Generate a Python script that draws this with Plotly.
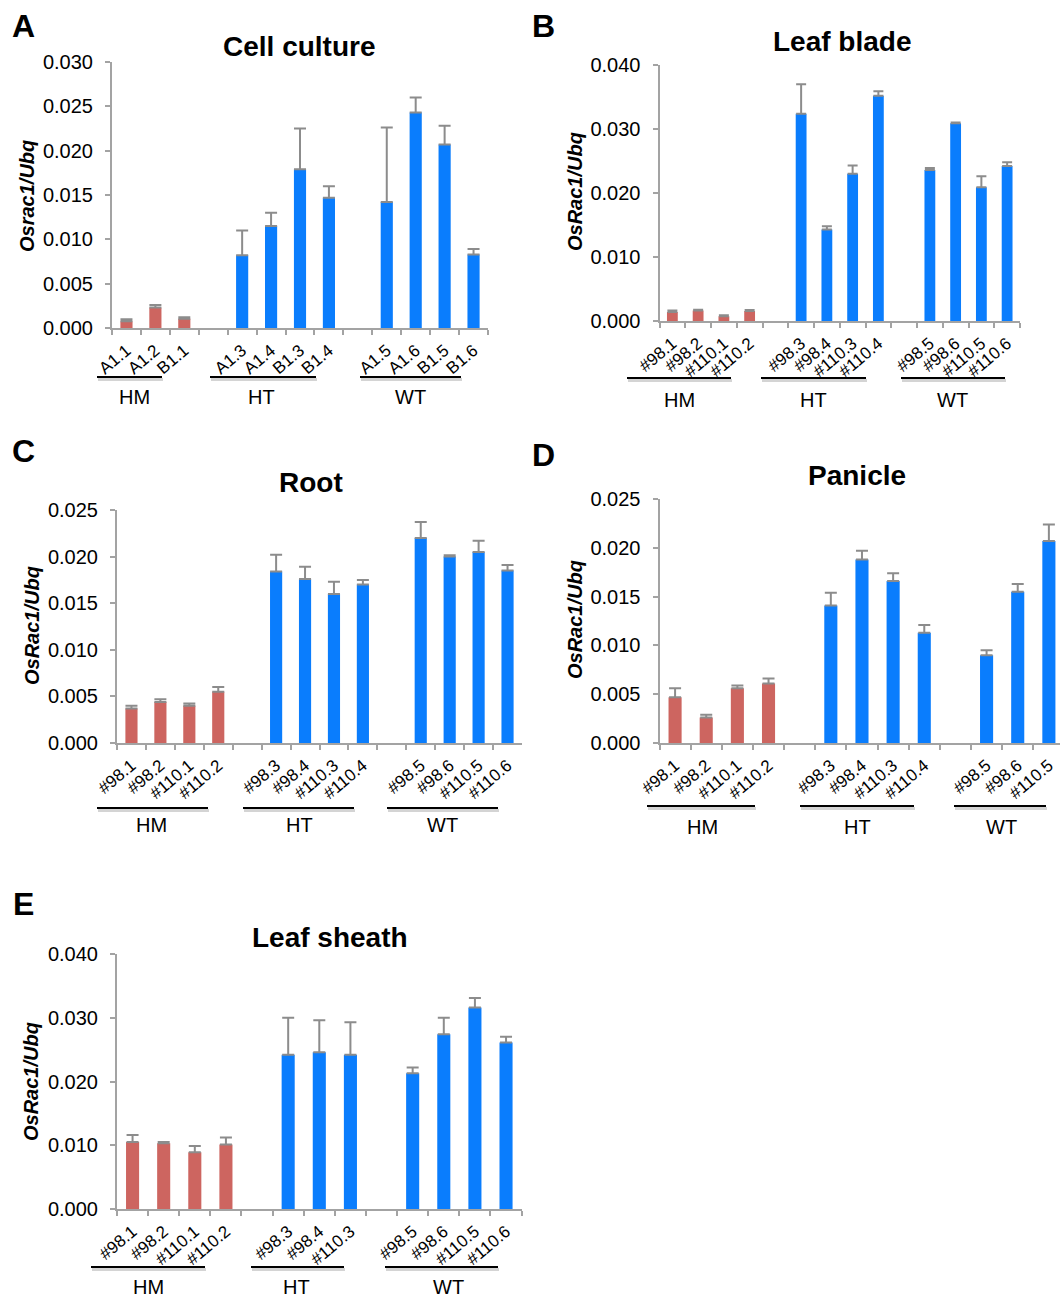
import plotly.graph_objects as go

W, H = 1060, 1299
FONT = "Liberation Sans, Arial, Helvetica, sans-serif"
BLUE = "#0a7dfd"
RED = "#cd6560"
AXIS_GRAY = "#a3a3a3"
ERR_GRAY = "#8c8c8c"

group_names = ["HM", "HT", "WT"]

# ---------------- Panel A: Cell culture ----------------
a_hm_labels = ["A1.1", "A1.2", "B1.1"]
a_ht_labels = ["A1.3", "A1.4", "B1.3", "B1.4"]
a_wt_labels = ["A1.5", "A1.6", "B1.5", "B1.6"]
a_hm_values = [0.00075, 0.0023, 0.00105]
a_hm_errors = [0.00025, 0.0003, 0.00015]
a_ht_values = [0.0082, 0.0115, 0.0179, 0.0147]
a_ht_errors = [0.0028, 0.0015, 0.0046, 0.0013]
a_wt_values = [0.0142, 0.0243, 0.0207, 0.0083]
a_wt_errors = [0.0084, 0.0017, 0.0021, 0.0006]

# ---------------- Panel B: Leaf blade ----------------
b_hm_labels = ["#98.1", "#98.2", "#110.1", "#110.2"]
b_ht_labels = ["#98.3", "#98.4", "#110.3", "#110.4"]
b_wt_labels = ["#98.5", "#98.6", "#110.5", "#110.6"]
b_hm_values = [0.0014, 0.00165, 0.00075, 0.00155]
b_hm_errors = [0.00025, 0.0001, 0.00015, 0.00015]
b_ht_values = [0.0324, 0.0143, 0.0230, 0.0352]
b_ht_errors = [0.0046, 0.0005, 0.0013, 0.0007]
b_wt_values = [0.0236, 0.0309, 0.0209, 0.0242]
b_wt_errors = [0.0003, 0.0001, 0.0017, 0.0006]

# ---------------- Panel C: Root ----------------
c_hm_labels = ["#98.1", "#98.2", "#110.1", "#110.2"]
c_ht_labels = ["#98.3", "#98.4", "#110.3", "#110.4"]
c_wt_labels = ["#98.5", "#98.6", "#110.5", "#110.6"]
c_hm_values = [0.0037, 0.0044, 0.0040, 0.0055]
c_hm_errors = [0.0003, 0.0003, 0.00025, 0.0005]
c_ht_values = [0.0184, 0.0176, 0.0160, 0.0170]
c_ht_errors = [0.0018, 0.0013, 0.0013, 0.0005]
c_wt_values = [0.0220, 0.0200, 0.0205, 0.0185]
c_wt_errors = [0.0017, 0.00015, 0.0012, 0.0006]

# ---------------- Panel D: Panicle ----------------
d_hm_labels = ["#98.1", "#98.2", "#110.1", "#110.2"]
d_ht_labels = ["#98.3", "#98.4", "#110.3", "#110.4"]
d_wt_labels = ["#98.5", "#98.6", "#110.5"]
d_hm_values = [0.0047, 0.0026, 0.0056, 0.0061]
d_hm_errors = [0.0009, 0.0003, 0.0003, 0.0005]
d_ht_values = [0.0141, 0.0188, 0.0166, 0.0113]
d_ht_errors = [0.0013, 0.0009, 0.0008, 0.0008]
d_wt_values = [0.0090, 0.0155, 0.0207]
d_wt_errors = [0.0005, 0.0008, 0.0017]

# ---------------- Panel E: Leaf sheath ----------------
e_hm_labels = ["#98.1", "#98.2", "#110.1", "#110.2"]
e_ht_labels = ["#98.3", "#98.4", "#110.3"]
e_wt_labels = ["#98.5", "#98.6", "#110.5", "#110.6"]
e_hm_values = [0.0105, 0.0103, 0.0089, 0.0101]
e_hm_errors = [0.0011, 0.0002, 0.0010, 0.0011]
e_ht_values = [0.0242, 0.0246, 0.0242]
e_ht_errors = [0.0058, 0.0050, 0.0051]
e_wt_values = [0.0213, 0.0274, 0.0316, 0.0261]
e_wt_errors = [0.0009, 0.0026, 0.0015, 0.0009]

# ---------------- layout geometry (page pixels) ----------------
panels = [
    dict(letter="A", title="Cell culture", ylabel="Osrac1/Ubq", ymax=0.030, dtick=0.005,
         labels=[a_hm_labels, a_ht_labels, a_wt_labels],
         values=[a_hm_values, a_ht_values, a_wt_values],
         errors=[a_hm_errors, a_ht_errors, a_wt_errors],
         x0=112, x1=488, slot=None, y0=328, ytop=62, cap=6,
         letter_xy=(23, 26), title_xy=(299, 46), ylab_xy=(27, 196),
         lines=[(97, 162), (210, 316), (360, 461)], line_y=377,
         glabels=[134, 261, 410], glabel_y=397),
    dict(letter="B", title="Leaf blade", ylabel="OsRac1/Ubq", ymax=0.040, dtick=0.010,
         labels=[b_hm_labels, b_ht_labels, b_wt_labels],
         values=[b_hm_values, b_ht_values, b_wt_values],
         errors=[b_hm_errors, b_ht_errors, b_wt_errors],
         x0=659.5, x1=1020, slot=None, y0=321, ytop=65, cap=5,
         letter_xy=(543, 26), title_xy=(842, 41), ylab_xy=(575, 192),
         lines=[(627, 731), (761, 866), (901, 1005)], line_y=378,
         glabels=[679, 813, 952], glabel_y=400),
    dict(letter="C", title="Root", ylabel="OsRac1/Ubq", ymax=0.025, dtick=0.005,
         labels=[c_hm_labels, c_ht_labels, c_wt_labels],
         values=[c_hm_values, c_ht_values, c_wt_values],
         errors=[c_hm_errors, c_ht_errors, c_wt_errors],
         x0=117, x1=522, slot=None, y0=743, ytop=510, cap=6,
         letter_xy=(23, 451), title_xy=(311, 482), ylab_xy=(32, 626),
         lines=[(97, 208), (243, 354), (387, 498)], line_y=808,
         glabels=[151, 299, 442], glabel_y=825),
    dict(letter="D", title="Panicle", ylabel="OsRac1/Ubq", ymax=0.025, dtick=0.005,
         labels=[d_hm_labels, d_ht_labels, d_wt_labels],
         values=[d_hm_values, d_ht_values, d_wt_values],
         errors=[d_hm_errors, d_ht_errors, d_wt_errors],
         x0=659.5, x1=1060, slot=31.15, y0=743, ytop=499, cap=6,
         letter_xy=(543, 455), title_xy=(857, 475), ylab_xy=(575, 620),
         lines=[(647, 755), (800, 914), (954, 1046)], line_y=806,
         glabels=[702, 857, 1001], glabel_y=827),
    dict(letter="E", title="Leaf sheath", ylabel="OsRac1/Ubq", ymax=0.040, dtick=0.010,
         labels=[e_hm_labels, e_ht_labels, e_wt_labels],
         values=[e_hm_values, e_ht_values, e_wt_values],
         errors=[e_hm_errors, e_ht_errors, e_wt_errors],
         x0=117, x1=521.6, slot=None, y0=1209, ytop=954, cap=6,
         letter_xy=(23, 904), title_xy=(330, 937), ylab_xy=(31, 1082),
         lines=[(91, 205), (251, 344), (385, 498)], line_y=1267,
         glabels=[148, 296, 448], glabel_y=1287),
]


def px(x):
    return x / W


def py(y):
    return 1 - y / H


fig = go.Figure()
shapes = []
annotations = []
layout_axes = {}

for i, p in enumerate(panels):
    n = i + 1
    xa = "x" if n == 1 else f"x{n}"
    ya = "y" if n == 1 else f"y{n}"
    xcats, ticktext, yv, ev, colors = [], [], [], [], []
    for gi, (labs, vals, errs) in enumerate(zip(p["labels"], p["values"], p["errors"])):
        if gi > 0:
            gap = f"gap{gi}"
            xcats.append(gap)
            ticktext.append("")
            yv.append(None)
            ev.append(None)
            colors.append(BLUE)
        for lab, v, e in zip(labs, vals, errs):
            xcats.append(lab)
            ticktext.append(lab)
            yv.append(v)
            ev.append(e)
            colors.append(RED if gi == 0 else BLUE)
    nslots = len(xcats)
    fig.add_trace(go.Bar(
        x=xcats, y=yv, xaxis=xa, yaxis=ya, width=0.42,
        marker=dict(color=colors, line=dict(width=0)),
        error_y=dict(type="data", symmetric=False, array=ev,
                     arrayminus=[0] * nslots, color=ERR_GRAY,
                     thickness=2, width=p["cap"]),
        showlegend=False, hoverinfo="skip",
    ))
    if p["slot"]:
        xr_end = -0.5 + (p["x1"] - p["x0"]) / p["slot"]
    else:
        xr_end = nslots - 0.5
    xkey = "xaxis" if n == 1 else f"xaxis{n}"
    ykey = "yaxis" if n == 1 else f"yaxis{n}"
    layout_axes[xkey] = dict(
        domain=[px(p["x0"]), px(p["x1"])], anchor=ya, type="category",
        categoryorder="array", categoryarray=xcats, automargin=False,
        tickmode="array", tickvals=xcats, ticktext=ticktext,
        tickson="boundaries", ticks="outside", ticklen=5, tickwidth=2,
        tickcolor=AXIS_GRAY, showline=True, linecolor=AXIS_GRAY, linewidth=2,
        showgrid=False, zeroline=False, tickangle=-40, ticklabelstandoff=4,
        tickfont=dict(family=FONT, size=17, color="black"),
        range=[-0.5, xr_end], fixedrange=True,
    )
    layout_axes[ykey] = dict(
        domain=[py(p["y0"]), py(p["ytop"])], anchor=xa, automargin=False,
        range=[0, p["ymax"]], dtick=p["dtick"], tick0=0, tickformat=".3f",
        ticks="outside", ticklen=5, tickwidth=2, tickcolor=AXIS_GRAY,
        showline=True, linecolor=AXIS_GRAY, linewidth=2,
        showgrid=False, zeroline=False, ticklabelstandoff=8,
        tickfont=dict(family=FONT, size=20, color="black"), fixedrange=True,
    )
    annotations.append(dict(text=f"<b>{p['letter']}</b>", x=px(p["letter_xy"][0]),
                            y=py(p["letter_xy"][1]), xref="paper", yref="paper",
                            showarrow=False, font=dict(family=FONT, size=32, color="black"),
                            xanchor="center", yanchor="middle"))
    annotations.append(dict(text=f"<b>{p['title']}</b>", x=px(p["title_xy"][0]),
                            y=py(p["title_xy"][1]), xref="paper", yref="paper",
                            showarrow=False, font=dict(family=FONT, size=28, color="black"),
                            xanchor="center", yanchor="middle"))
    annotations.append(dict(text=f"<b><i>{p['ylabel']}</i></b>", x=px(p["ylab_xy"][0]),
                            y=py(p["ylab_xy"][1]), xref="paper", yref="paper",
                            showarrow=False, textangle=-90,
                            font=dict(family=FONT, size=20, color="black"),
                            xanchor="center", yanchor="middle"))
    for (lx0, lx1), gx, gname in zip(p["lines"], p["glabels"], group_names):
        shapes.append(dict(type="line", xref="paper", yref="paper",
                           x0=px(lx0 + 1), x1=px(lx1 + 1), y0=py(p["line_y"] + 2.5),
                           y1=py(p["line_y"] + 2.5),
                           line=dict(color="#d4d4d4", width=3)))
        shapes.append(dict(type="line", xref="paper", yref="paper",
                           x0=px(lx0), x1=px(lx1), y0=py(p["line_y"]), y1=py(p["line_y"]),
                           line=dict(color="black", width=2)))
        annotations.append(dict(text=gname, x=px(gx), y=py(p["glabel_y"]),
                                xref="paper", yref="paper", showarrow=False,
                                font=dict(family=FONT, size=20, color="black"),
                                xanchor="center", yanchor="middle"))

fig.update_layout(
    width=W, height=H, autosize=False,
    margin=dict(l=0, r=0, t=0, b=0, pad=0),
    paper_bgcolor="white", plot_bgcolor="white",
    font=dict(family=FONT, color="black"),
    shapes=shapes, annotations=annotations,
    **layout_axes,
)

fig.write_html("out.html", config={"displayModeBar": False})
